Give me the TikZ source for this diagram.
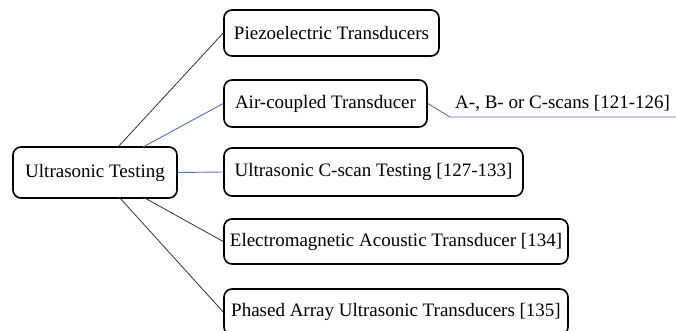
\documentclass[tikz,border=0pt]{standalone}
\usepackage{fontspec}
\setmainfont{Liberation Serif}
\definecolor{linkblue}{RGB}{79,113,190}
\begin{document}
\begin{tikzpicture}[x=1pt,y=-1pt,
  box/.style={draw=black,line width=1.6pt,rounded corners=8pt,inner sep=0pt,
    font=\fontsize{19}{22}\selectfont,align=center},
  blk/.style={draw=black!80,line width=0.8pt},
  blu/.style={draw=linkblue,line width=0.9pt}]
\useasboundingbox (0,0) rectangle (676,331);
\clip (0,0) rectangle (676,331);
\node[box,minimum width=164pt,minimum height=51pt] (ut) at (95,172.5) {Ultrasonic Testing};
\node[box,minimum width=215pt,minimum height=46pt] (pz) at (331.5,33) {Piezoelectric Transducers};
\node[box,minimum width=203pt,minimum height=47pt] (ac) at (325.5,103.5) {Air-coupled Transducer};
\node[box,minimum width=299pt,minimum height=48pt] (cs) at (373.5,172) {Ultrasonic C-scan Testing [127-133]};
\node[box,minimum width=344pt,minimum height=45pt] (em) at (396,241.5) {Electromagnetic Acoustic Transducer [134]};
\node[box,minimum width=344pt,minimum height=46pt] (pa) at (396,312) {Phased Array Ultrasonic Transducers [135]};
\node[font=\fontsize{19}{22}\selectfont,anchor=west,inner sep=0pt] (sc) at (455,103) {A-, B- or C-scans [121-126]};
\coordinate (t1) at (118,147);
\coordinate (t2) at (143,147);
\coordinate (b1) at (119,197);
\coordinate (b2) at (143,197);
\coordinate (k) at (450,117);
\coordinate (e) at (676,117);
\draw[blk] (t1) -- (pz.west);
\draw[blu] (t2) -- (ac.west);
\draw[blu] (ut.east) -- (cs.west);
\draw[blk] (b2) -- (em.west);
\draw[blk] (b1) -- (pa.west);
\draw[blu] (ac.east) -- (k) -- (e);
\end{tikzpicture}
\end{document}
